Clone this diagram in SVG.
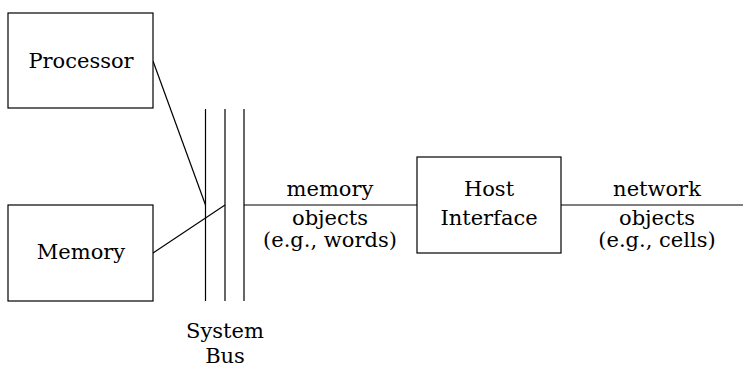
<svg xmlns="http://www.w3.org/2000/svg" width="743" height="370" viewBox="0 0 743 370">
<style>
.box{fill:#fff;stroke:#000;stroke-width:1.2}
.ln{stroke:#000;stroke-width:1.2;fill:none}
.t{font-family:'DejaVu Serif',serif;font-size:21px;fill:#000;text-anchor:middle}
</style>
<rect width="743" height="370" fill="#fff"/>
<g id="connectors">
<line class="ln" x1="205.5" y1="109" x2="205.5" y2="301"/>
<line class="ln" x1="225" y1="109" x2="225" y2="301"/>
<line class="ln" x1="244" y1="109" x2="244" y2="301"/>
<line class="ln" x1="153" y1="61" x2="205.5" y2="205"/>
<line class="ln" x1="153" y1="253" x2="225" y2="205"/>
<line class="ln" x1="244" y1="205" x2="417" y2="205"/>
<line class="ln" x1="561" y1="205" x2="743" y2="205"/>
</g>
<g id="processor">
<rect class="box" x="8" y="13" width="145" height="95"/>
<text class="t" x="81" y="68">Processor</text>
</g>
<g id="memory">
<rect class="box" x="8" y="205" width="145" height="96"/>
<text class="t" x="81" y="259">Memory</text>
</g>
<g id="host-interface">
<rect class="box" x="417" y="157" width="144" height="96"/>
<text class="t" x="489" y="196">Host</text>
<text class="t" x="489" y="225">Interface</text>
</g>
<g id="system-bus">
<text class="t" x="225" y="338">System</text>
<text class="t" x="225" y="363">Bus</text>
</g>
<g id="memory-label">
<text class="t" x="330" y="196">memory</text>
<text class="t" x="330" y="225">objects</text>
<text class="t" x="330" y="247">(e.g., words)</text>
</g>
<g id="network-label">
<text class="t" x="657" y="196">network</text>
<text class="t" x="657" y="225">objects</text>
<text class="t" x="657" y="247">(e.g., cells)</text>
</g>
</svg>
